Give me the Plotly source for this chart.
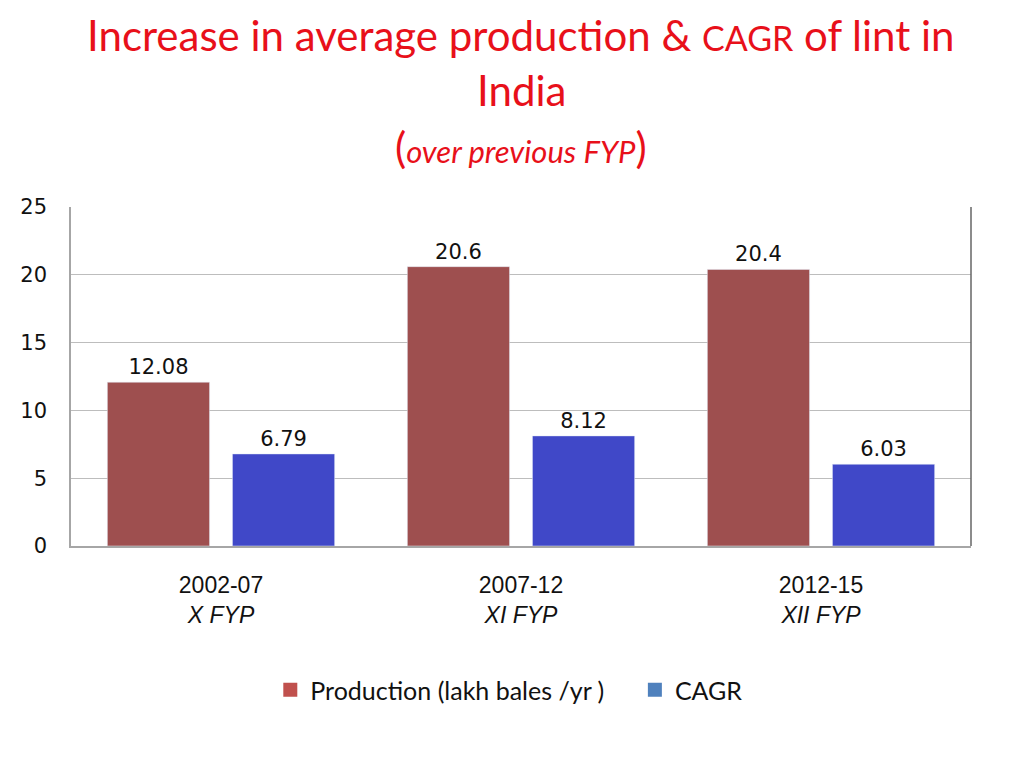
import plotly.graph_objects as go

periods = ["2002-07", "2007-12", "2012-15"]
plans = ["X FYP", "XI FYP", "XII FYP"]
production = [12.08, 20.6, 20.4]
cagr = [6.79, 8.12, 6.03]
prod_labels = ["12.08", "20.6", "20.4"]
cagr_labels = ["6.79", "8.12", "6.03"]

ticktext = [p + "<br><i>" + f + "</i>" for p, f in zip(periods, plans)]

fig = go.Figure()
fig.add_trace(go.Bar(x=periods, y=production, text=prod_labels, textposition="outside",
                     marker=dict(color="#9E4F4F"), showlegend=False, cliponaxis=False,
                     textfont=dict(family="DejaVu Sans", size=21, color="#111")))
fig.add_trace(go.Bar(x=periods, y=cagr, text=cagr_labels, textposition="outside",
                     marker=dict(color="#4048C8"), showlegend=False, cliponaxis=False,
                     textfont=dict(family="DejaVu Sans", size=21, color="#111")))
# legend swatches: the slide's legend uses the lighter default colours
fig.add_trace(go.Scatter(x=[None], y=[None], mode="markers",
                         name="Production (lakh bales /yr )" + "&nbsp;" * 4,
                         marker=dict(color="#C0504D", symbol="square", size=14)))
fig.add_trace(go.Scatter(x=[None], y=[None], mode="markers", name="CAGR",
                         marker=dict(color="#4F81BD", symbol="square", size=14)))

fig.add_annotation(text="Increase in average production & <span style='font-size:34px'>CAGR</span> of lint in",
                   x=0.5, y=35, showarrow=False)
fig.add_annotation(text="India", x=0.5, y=90, showarrow=False)
fig.add_annotation(text="<span style='font-size:42px'>(</span><i>over previous FYP</i><span style='font-size:42px'>)</span>",
                   x=0.5, y=147, showarrow=False, font=dict(size=31))
for a in fig.layout.annotations:
    a.xref = "paper"
    a.yref = "paper"
    a.y = (546 - a.y) / 339
    a.yanchor = "middle"
    if a.font.size is None:
        a.font.size = 42
    a.font.family = "Lato"
    a.font.color = "#E8101A"

fig.add_shape(type="line", xref="paper", yref="paper", x0=1, x1=1, y0=0, y1=1,
              line=dict(color="#666", width=1.5))

fig.update_layout(
    width=1024, height=768,
    margin=dict(l=59, r=61, t=199, b=230),
    paper_bgcolor="white", plot_bgcolor="white",
    barmode="group", bargap=0.166, bargroupgap=0.183,
    font=dict(family="Liberation Sans", color="#111"),
    legend=dict(orientation="h", x=0.487, xanchor="center", y=-0.425, yanchor="middle",
                font=dict(family="Lato", size=25), traceorder="normal"),
    xaxis=dict(type="category", categoryorder="array", categoryarray=periods,
               tickmode="array", tickvals=periods, ticktext=ticktext,
               tickfont=dict(family="Liberation Sans", size=23),
               showline=True, linecolor="#A6A6A6", linewidth=1.5,
               ticks="", ticklabelstandoff=18),
    yaxis=dict(range=[0, 25], dtick=5, showgrid=True, gridcolor="#BDBDBD", gridwidth=1,
               showline=True, linecolor="#A6A6A6", linewidth=1.5, zeroline=False,
               tickfont=dict(family="DejaVu Sans", size=21), ticklabelstandoff=18),
)

fig.write_html("out.html")
